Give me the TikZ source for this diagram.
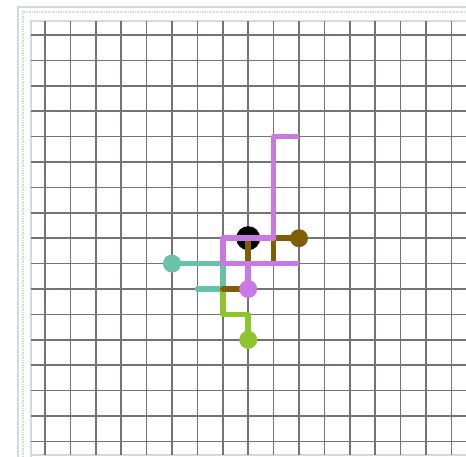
\documentclass[tikz,border=0pt]{standalone}
\begin{document}
\begin{tikzpicture}[x=1pt,y=-1pt,
  gridline/.style={draw={rgb,255:red,118;green,114;blue,124},line width=1.5pt},
  frameline/.style={draw={rgb,255:red,214;green,216;blue,224},line width=1.4pt},
  pipe/.style={line width=5.5pt,line cap=round,line join=round},
  dot/.style={circle,inner sep=0pt,minimum size=18pt,fill=#1,draw=none},
  bigdot/.style={circle,inner sep=0pt,minimum size=24pt,fill=black,draw=none}]
\definecolor{cpurple}{RGB}{200,122,226}
\definecolor{cbrown}{RGB}{128,94,4}
\definecolor{cteal}{RGB}{104,194,166}
\definecolor{cgreen}{RGB}{140,198,44}
\useasboundingbox (0,0) rectangle (466,457);
\fill[white] (0,0) rectangle (466,457);
% frame
\draw[frameline] (18,457) -- (18,7) -- (466,7);
\draw[frameline,densely dotted] (23,457) -- (23,12) -- (466,12);
\draw[frameline] (31,457) -- (31,21) -- (466,21);
\draw[frameline] (31,455) -- (466,455);
% grid points
\foreach \k in {0,...,16}{
  \foreach \j in {0,...,16}{
    \coordinate (p-\k-\j) at ({45+25.4*\k},{35+25.4*\j});
  }
}
\foreach \k in {0,...,16}{
  \draw[gridline] ({45+25.4*\k},21) -- ({45+25.4*\k},455);
}
\foreach \j in {0,...,16}{
  \draw[gridline] (31,{35+25.4*\j}) -- (466,{35+25.4*\j});
}
% teal
\node[dot=cteal] (tealend) at (p-5-9) {};
\draw[pipe,cteal] (tealend.center) -- (p-7-9) -- (p-7-10) -- (p-6-10);
% green
\node[dot=cgreen] (greenend) at (p-8-12) {};
\draw[pipe,cgreen] (p-7-10) -- (p-7-11) -- (p-8-11) -- (greenend.center);
% black
\node[bigdot] (start) at (p-8-8) {};
% brown
\node[dot=cbrown] (brownend) at (p-10-8) {};
\draw[pipe,cbrown] (start.center) -- (p-8-9);
\draw[pipe,cbrown] (brownend.center) -- (p-9-8) -- (p-9-9);
\draw[pipe,cbrown] (p-7-10) -- (p-8-10);
% purple
\draw[pipe,cpurple,line cap=butt] (p-10-4) -- (p-9-4) -- (p-9-8) -- (p-7-8) -- (p-7-9) -- (p-10-9);
\node[dot=cpurple] (purpleend) at (p-8-10) {};
\draw[pipe,cpurple] (p-8-9) -- (purpleend.center);
\end{tikzpicture}
\end{document}
